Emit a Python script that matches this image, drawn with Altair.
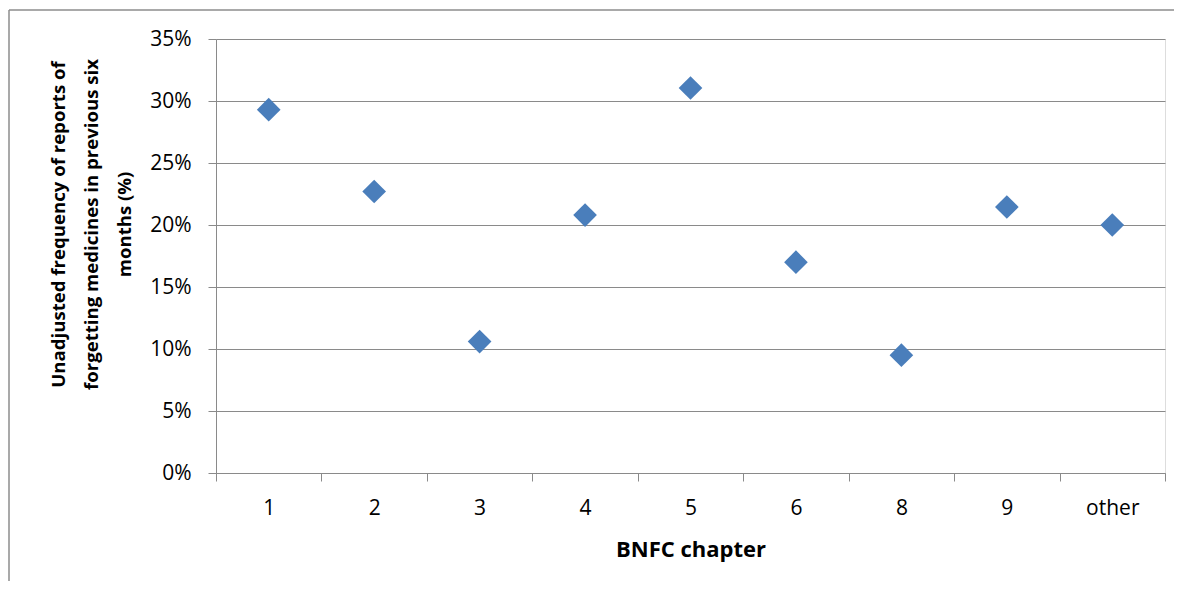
import altair as alt
import pandas as pd

chapters = ["1", "2", "3", "4", "5", "6", "8", "9", "other"]
frequency = [0.293, 0.227, 0.106, 0.208, 0.3105, 0.170, 0.095, 0.2145, 0.200]
y_ticks = [0, 0.05, 0.10, 0.15, 0.20, 0.25, 0.30, 0.35]
y_title = ["Unadjusted frequency of reports of",
           "forgetting medicines in previous six",
           "months (%)"]
x_title = "BNFC chapter"

df = pd.DataFrame({"chapter": chapters, "freq": frequency})

W, H = 949, 434
PAD_L, PAD_T, PAD_R, PAD_B = 208, 31, 9, 108
FONT = "Open Sans"
GRID = "#8a8a8a"

points = alt.Chart(df).mark_point(
    shape="diamond", filled=True, size=560, color="#4a7ebb", opacity=1
).encode(
    x=alt.X("chapter:N", sort=chapters,
            scale=alt.Scale(type="band", paddingInner=0, paddingOuter=0),
            axis=alt.Axis(title=x_title, labelAngle=0, tickBand="extent",
                          tickSize=8, tickColor=GRID, domainColor=GRID,
                          labelPadding=16, labelFontSize=21, labelFont=FONT,
                          labelColor="black",
                          titleFont=FONT, titleFontSize=22, titleFontWeight="bold",
                          titleColor="black", titleBaseline="top", titleY=66,
                          titleAnchor="middle")),
    y=alt.Y("freq:Q", scale=alt.Scale(domain=[0, 0.35], nice=False),
            axis=alt.Axis(values=y_ticks, format=".0%", title=y_title,
                          tickSize=8, tickColor=GRID, domainColor=GRID,
                          gridColor=GRID, gridWidth=1,
                          labelPadding=17, labelFontSize=21, labelFont=FONT,
                          labelColor="black",
                          titleFont=FONT, titleFontSize=18.6, titleFontWeight="bold",
                          titleColor="black", titleAngle=270, titleLineHeight=33,
                          titleAlign="center", titleBaseline="top",
                          titleX=-167, titleY=185)),
)

frame = pd.DataFrame({"k": [0]})
border_left = alt.Chart(frame).mark_rule(color="#8c8c8c", strokeWidth=1.5).encode(
    x=alt.value(-207), y=alt.value(-29), y2=alt.value(H + PAD_B))
border_top = alt.Chart(frame).mark_rule(color="#8c8c8c", strokeWidth=1.5).encode(
    x=alt.value(-207), x2=alt.value(W + PAD_R), y=alt.value(-29))

chart = alt.layer(points, border_left, border_top).properties(
    width=W, height=H,
    autosize=alt.AutoSizeParams(type="none"),
    padding={"left": PAD_L, "top": PAD_T, "right": PAD_R, "bottom": PAD_B},
).configure_view(stroke=None).configure(background="white")

chart.save("out.html", embed_options={"renderer": "svg", "actions": False})
